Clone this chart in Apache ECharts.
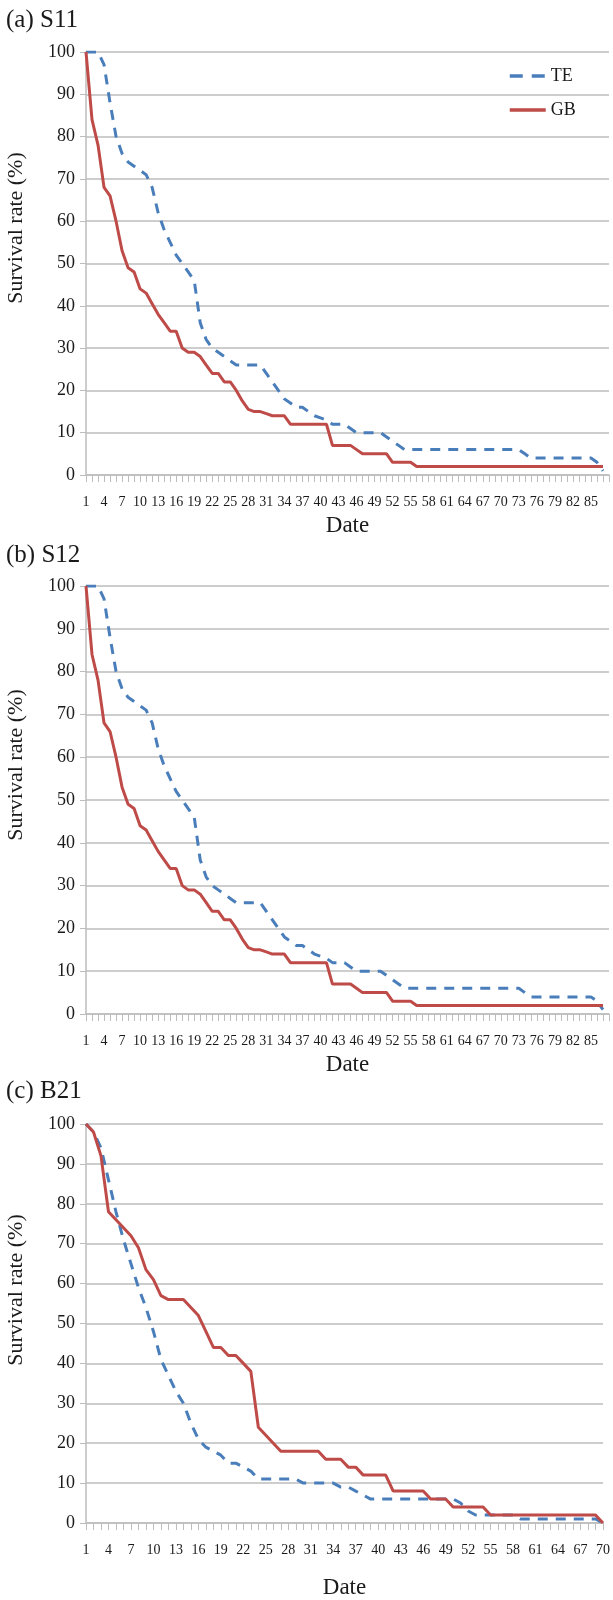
<!DOCTYPE html>
<html>
<head>
<meta charset="utf-8">
<script src="https://cdn.jsdelivr.net/npm/echarts@6/dist/echarts.min.js"></script>
<style>
  html, body { margin: 0; padding: 0; background: #fff; }
  #chart { width: 613px; height: 1600px; }
</style>
</head>
<body>
<div id="chart"></div>
<script>
// survival rate (%) per day
const s11Te = [100, 100, 100, 97, 88, 80, 76, 74, 73, 72, 71, 68, 62, 58, 55, 52, 50, 48, 46, 36,
  32, 30, 29, 28, 27, 26, 26, 26, 26, 26, 24, 22, 20, 18, 17, 16, 16, 15, 14, 13.5,
  13, 12, 12, 12, 11, 10, 10, 10, 10, 10, 9, 8, 7, 6, 6, 6, 6, 6, 6, 6,
  6, 6, 6, 6, 6, 6, 6, 6, 6, 6, 6, 6, 6, 5, 4, 4, 4, 4, 4, 4,
  4, 4, 4, 4, 4, 3, 1];
const s11Gb = [100, 84, 78, 68, 66, 60, 53, 49, 48, 44, 43, 40.5, 38, 36, 34, 34, 30, 29, 29, 28,
  26, 24, 24, 22, 22, 20, 17.5, 15.5, 15, 15, 14.5, 14, 14, 14, 12, 12, 12, 12, 12, 12,
  12, 7, 7, 7, 7, 6, 5, 5, 5, 5, 5, 3, 3, 3, 3, 2, 2, 2, 2, 2,
  2, 2, 2, 2, 2, 2, 2, 2, 2, 2, 2, 2, 2, 2, 2, 2, 2, 2, 2, 2,
  2, 2, 2, 2, 2, 2, 2];
const s12Te = [100, 100, 100, 97, 88, 80, 76, 74, 73, 72, 71, 68, 62, 58, 55, 52, 50, 48, 46, 36,
  32, 30, 29, 28, 27, 26, 26, 26, 26, 26, 24, 22, 20, 18, 17, 16, 16, 15, 14, 13.5,
  13, 12, 12, 12, 11, 10, 10, 10, 10, 10, 9, 8, 7, 6, 6, 6, 6, 6, 6, 6,
  6, 6, 6, 6, 6, 6, 6, 6, 6, 6, 6, 6, 6, 5, 4, 4, 4, 4, 4, 4,
  4, 4, 4, 4, 4, 3, 1];
const s12Gb = [100, 84, 78, 68, 66, 60, 53, 49, 48, 44, 43, 40.5, 38, 36, 34, 34, 30, 29, 29, 28,
  26, 24, 24, 22, 22, 20, 17.5, 15.5, 15, 15, 14.5, 14, 14, 14, 12, 12, 12, 12, 12, 12,
  12, 7, 7, 7, 7, 6, 5, 5, 5, 5, 5, 3, 3, 3, 3, 2, 2, 2, 2, 2,
  2, 2, 2, 2, 2, 2, 2, 2, 2, 2, 2, 2, 2, 2, 2, 2, 2, 2, 2, 2,
  2, 2, 2, 2, 2, 2, 2];
const b21Te = [100, 98, 94, 86, 78, 71, 65, 59, 54, 48, 41, 37, 33, 30, 25, 21, 19, 18, 17, 15,
  15, 14, 13, 11, 11, 11, 11, 11, 11, 10, 10, 10, 10, 10, 9, 9, 8, 7, 6, 6,
  6, 6, 6, 6, 6, 6, 6, 6, 6, 6, 5, 3, 2, 2, 2, 2, 2, 2, 1, 1,
  1, 1, 1, 1, 1, 1, 1, 1, 1, 0];
const b21Gb = [100, 98, 92, 78, 76, 74, 72, 69, 63.5, 61, 57, 56, 56, 56, 54, 52, 48, 44, 44, 42,
  42, 40, 38, 24, 22, 20, 18, 18, 18, 18, 18, 18, 16, 16, 16, 14, 14, 12, 12, 12,
  12, 8, 8, 8, 8, 8, 6, 6, 6, 4, 4, 4, 4, 4, 2, 2, 2, 2, 2, 2,
  2, 2, 2, 2, 2, 2, 2, 2, 2, 0];

const daysS = Array.from({ length: 88 }, (_, i) => String(i + 1));
const daysB = Array.from({ length: 70 }, (_, i) => String(i + 1));
const panelTitles = ['(a) S11', '(b) S12', '(c) B21'];
const yName = 'Survival rate (%)';

const FONT = 'Liberation Serif';
const TEXT = '#1a1a1a';
const GRAY = '#bdbdbd';
const BLUE = '#4a7ebb';
const RED = '#be4b48';

const grids = [
  { left: 86, top: 52, width: 523, height: 423 },
  { left: 86, top: 586, width: 523, height: 428 },
  { left: 86, top: 1124, width: 522, height: 401 }
];

function xAxisFor(gridIndex, days, lastLabel, gap) {
  return {
    type: 'category', gridIndex, data: days, boundaryGap: false,
    axisLine: { lineStyle: { color: GRAY, width: 1.5 } },
    axisTick: { show: true, interval: 0, length: 7, lineStyle: { color: GRAY } },
    axisLabel: {
      interval: (i) => i % 3 === 0 && i <= lastLabel,
      margin: 20, fontFamily: FONT, fontSize: 14, color: TEXT
    },
    name: 'Date', nameLocation: 'middle', nameGap: gap,
    nameTextStyle: { fontFamily: FONT, fontSize: 23, color: TEXT }
  };
}

function yAxisFor(gridIndex) {
  return {
    type: 'value', gridIndex, min: 0, max: 100, interval: 10,
    axisLine: { show: true, lineStyle: { color: GRAY, width: 1.5 } },
    axisTick: { show: true, length: 6, lineStyle: { color: GRAY } },
    axisLabel: { margin: 11, fontFamily: FONT, fontSize: 18, color: TEXT },
    splitLine: { lineStyle: { color: GRAY, width: 1.5 } }
  };
}

function lineSeries(name, idx, data, color, dashed) {
  return {
    name, type: 'line', xAxisIndex: idx, yAxisIndex: idx, data,
    symbol: 'none', showSymbol: false, animation: false,
    itemStyle: { color },
    lineStyle: { color, width: 3, type: dashed ? [10, 8] : 'solid' }
  };
}

// y-axis titles sit a little above the middle of each plot
function yTitle(centerY) {
  return {
    type: 'text', x: 16, y: centerY, rotation: Math.PI / 2,
    style: {
      text: yName, fontFamily: FONT, fontSize: 22, fill: TEXT,
      align: 'center', verticalAlign: 'middle'
    }
  };
}

const chart = echarts.init(document.getElementById('chart'));
chart.setOption({
  backgroundColor: '#fff',
  animation: false,
  title: [
    { text: panelTitles[0], left: 6, top: 8 },
    { text: panelTitles[1], left: 6, top: 543 },
    { text: panelTitles[2], left: 6, top: 1079 }
  ].map(t => Object.assign(t, {
    padding: 0,
    textStyle: { fontFamily: FONT, fontSize: 25, fontWeight: 'normal', color: TEXT }
  })),
  legend: {
    data: [
      { name: 'TE', lineStyle: { width: 3.5, type: [13, 9] } },
      { name: 'GB', lineStyle: { width: 3.5 } }
    ],
    orient: 'vertical', left: 508, top: 67,
    itemWidth: 36, itemHeight: 14, itemGap: 16, padding: 0,
    itemStyle: { opacity: 0 },
    textStyle: { fontFamily: FONT, fontSize: 18, color: TEXT }
  },
  graphic: [yTitle(228), yTitle(765), yTitle(1290)],
  grid: grids,
  xAxis: [
    xAxisFor(0, daysS, 84, 39),
    xAxisFor(1, daysS, 84, 39),
    xAxisFor(2, daysB, 69, 53)
  ],
  yAxis: [yAxisFor(0), yAxisFor(1), yAxisFor(2)],
  series: [
    lineSeries('TE', 0, s11Te, BLUE, true),
    lineSeries('GB', 0, s11Gb, RED, false),
    lineSeries('TE', 1, s12Te, BLUE, true),
    lineSeries('GB', 1, s12Gb, RED, false),
    lineSeries('TE', 2, b21Te, BLUE, true),
    lineSeries('GB', 2, b21Gb, RED, false)
  ]
});
</script>
</body>
</html>
